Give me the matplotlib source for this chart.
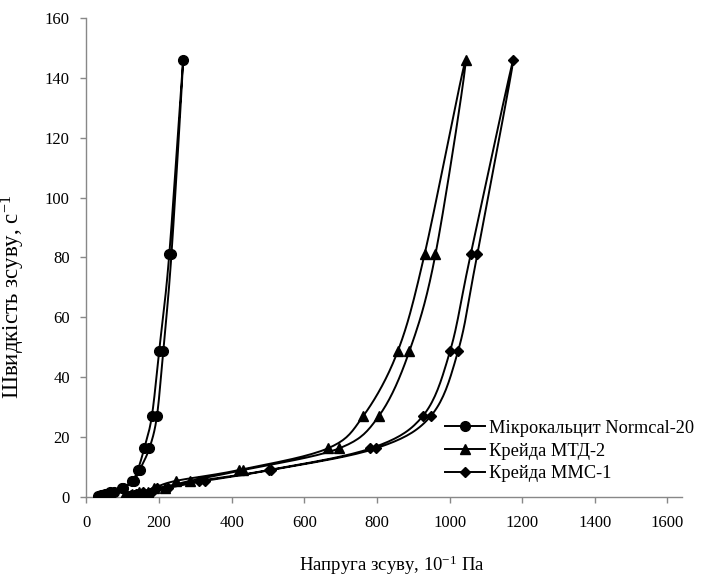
import numpy as np
import matplotlib
matplotlib.use("Agg")
import matplotlib.pyplot as plt
from matplotlib.lines import Line2D

# Shear rates (s^-1), rising branch; falling branch reuses them in reverse
rates_up = [0.3, 0.5, 0.9, 1.5, 3, 5.4, 9, 16.2, 27, 48.6, 81, 145.8]
rates_down = [81, 48.6, 27, 16.2, 9, 5.4, 3, 1.5, 0.9, 0.5, 0.3]

# Shear stress, 10^-1 Pa
micro_up = [32, 40, 52, 65, 97, 126, 141, 159, 180, 200, 228, 266]
micro_down = [234, 211, 194, 173, 146, 131, 100, 76, 62, 50, 40]

mtd_up = [103, 112, 125, 145, 185, 247, 420, 664, 762, 857, 931, 1044]
mtd_down = [961, 889, 805, 695, 432, 285, 215, 170, 140, 122, 110]

mmc_up = [112, 122, 135, 155, 195, 310, 502, 782, 926, 1001, 1058, 1175]
mmc_down = [1076, 1023, 948, 796, 508, 327, 225, 180, 150, 130, 118]

labels = ["Мікрокальцит Normcal-20", "Крейда МТД-2", "Крейда ММС-1"]
markers = ["o", "^", "D"]
marker_sizes = [7, 6.5, 5]

plt.rcParams.update({
    "font.family": ["Liberation Serif", "DejaVu Serif"],
    "font.size": 12,
    "mathtext.fontset": "custom",
    "mathtext.rm": "Liberation Serif",
    "mathtext.it": "Liberation Serif:italic",
})


def smooth(xs, ys, n=20):
    """Excel-like smoothed line (Catmull-Rom style Bezier segments)"""
    p = np.column_stack([xs, ys]).astype(float)
    ext = np.vstack([p[0], p, p[-1]])
    t = np.linspace(0, 1, n)[:, None]
    out = []
    for i in range(len(p) - 1):
        p0, p1, p2, p3 = ext[i], ext[i + 1], ext[i + 2], ext[i + 3]
        c1 = p1 + (p2 - p0) / 6
        c2 = p2 - (p3 - p1) / 6
        seg = ((1 - t) ** 3) * p1 + 3 * ((1 - t) ** 2) * t * c1 + 3 * (1 - t) * t ** 2 * c2 + t ** 3 * p2
        out.append(seg if i == 0 else seg[1:])
    out = np.vstack(out)
    return out[:, 0], out[:, 1]


fig = plt.figure(figsize=(7.02, 5.76), dpi=100)
ax = fig.add_axes([0.1232, 0.1372, 0.8483, 0.8316])

series = [(micro_up, micro_down), (mtd_up, mtd_down), (mmc_up, mmc_down)]
rates = rates_up + rates_down
handles = []
for (up, down), m, ms, lab in zip(series, markers, marker_sizes, labels):
    xs = up + down
    sx, sy = smooth(xs, rates)
    ax.plot(sx, sy, color="black", lw=1.4, zorder=2)
    ax.plot(xs, rates, linestyle="none", marker=m, ms=ms, color="black", zorder=3)
    handles.append(Line2D([], [], color="black", lw=1.4, marker=m, ms=ms, label=lab))

ax.set_xlim(0, 1640)
ax.set_ylim(0, 160)
ax.set_xticks(np.arange(0, 1601, 200))
ax.set_yticks(np.arange(0, 161, 20))
for s in ["top", "right"]:
    ax.spines[s].set_visible(False)
for s in ["left", "bottom"]:
    ax.spines[s].set_color("#888888")
    ax.spines[s].set_linewidth(1)
ax.tick_params(direction="out", length=4, width=1, color="#888888", labelsize=12)
ax.tick_params(axis="x", pad=9)
ax.tick_params(axis="y", pad=8)

ax.set_xlabel("Напруга зсуву, 10$^{-1}$ Па", fontsize=13.5)
ax.xaxis.set_label_coords(0.513, -0.119)
ax.set_ylabel("Швидкість зсуву, с$^{-1}$", fontsize=16.5)
ax.yaxis.set_label_coords(-0.1, 0.4175)

fig.legend(handles=handles, loc="center left", bbox_to_anchor=(445 / 702, 125 / 576),
           frameon=False, fontsize=13.2, handlelength=2.2, handletextpad=0.2,
           labelspacing=0.32, borderpad=0, borderaxespad=0)

fig.savefig("out.png", dpi=100)
